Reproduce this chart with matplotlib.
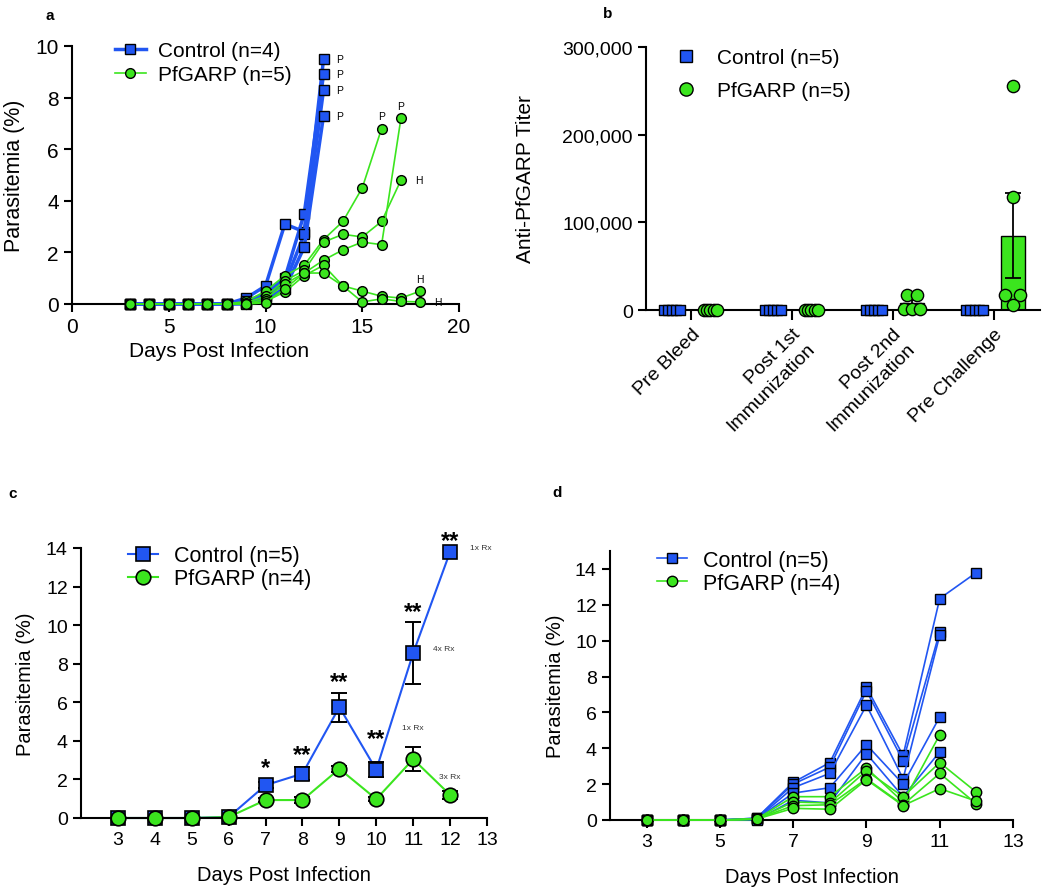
import numpy as np
import matplotlib
matplotlib.use('Agg')
import matplotlib.pyplot as plt
from matplotlib.ticker import FuncFormatter
from matplotlib.lines import Line2D

plt.rcParams['font.family'] = ['Liberation Sans', 'DejaVu Sans']

BLUE = '#2156F2'
GREEN = '#3BE51E'

# ---------------- Panel a data ----------------
a_days = list(range(3, 19))
a_control = [
    [0, 0, 0, 0, 0, 0, 0.23, 0.7, 3.1, 2.8, 9.5],
    [0, 0, 0, 0, 0, 0, 0.1, 0.4, 1.0, 3.5, 8.9],
    [0, 0, 0, 0, 0, 0, 0.05, 0.3, 0.8, 2.7, 8.3],
    [0, 0, 0, 0, 0, 0, 0.0, 0.2, 0.6, 2.2, 7.3],
]
a_control_end = ['P', 'P', 'P', 'P']
a_pfgarp = [
    [0, 0, 0, 0, 0, 0, 0.1, 0.5, 1.1, 1.5, 2.5, 3.2, 4.5, 6.8],
    [0, 0, 0, 0, 0, 0, 0.05, 0.3, 0.9, 1.3, 2.4, 2.7, 2.6, 3.2, 4.8],
    [0, 0, 0, 0, 0, 0, 0, 0.2, 0.78, 1.2, 1.7, 2.1, 2.4, 2.3, 7.2],
    [0, 0, 0, 0, 0, 0, 0, 0.1, 0.47, 1.1, 1.5, 0.7, 0.5, 0.3, 0.23, 0.5],
    [0, 0, 0, 0, 0, 0, 0, 0.05, 0.6, 1.2, 1.2, 0.7, 0.08, 0.2, 0.1, 0.08],
]
a_pfgarp_end = ['P', 'H', 'P', 'H', 'H']
a_pfgarp_end_pos = ['above', 'right', 'above', 'above', 'right']

# ---------------- Panel b data ----------------
b_groups = ['Pre Bleed', 'Post 1st\nImmunization', 'Post 2nd\nImmunization', 'Pre Challenge']
b_control = [[0, 0, 0, 0, 0], [0, 0, 0, 0, 0], [0, 0, 0, 0, 0], [0, 0, 0, 0, 0]]
b_pfgarp = [[0, 0, 0, 0, 0], [0, 0, 0, 0, 0],
            [17000, 17000, 1100, 1100, 1100],
            [256000, 129000, 17000, 17000, 5700]]

# ---------------- Panel c data ----------------
c_days = [3, 4, 5, 6, 7, 8, 9, 10, 11, 12]
c_control_mean = [0, 0, 0, 0.05, 1.7, 2.3, 5.75, 2.5, 8.55, 13.8]
c_control_sem = [0, 0, 0, 0, 0.15, 0.35, 0.75, 0.38, 1.6, 0]
c_pfgarp_mean = [0, 0, 0, 0.05, 0.93, 0.93, 2.55, 0.98, 3.05, 1.2]
c_pfgarp_sem = [0, 0, 0, 0, 0.1, 0.15, 0.15, 0.1, 0.63, 0.2]
c_star_days = [7, 8, 9, 10, 11, 12]
c_star_text = ['*', '**', '**', '**', '**', '**']
c_star_y = [2.6, 3.3, 7.1, 4.1, 10.7, 14.4]
c_rx_control = {11: '4x Rx', 12: '1x Rx'}
c_rx_pfgarp = {11: '1x Rx', 12: '3x Rx'}

# ---------------- Panel d data ----------------
d_days = [3, 4, 5, 6, 7, 8, 9, 10, 11, 12]
d_control = [
    [0, 0, 0, 0.1, 2.1, 3.2, 7.4, 3.6, 12.35, 13.8],
    [0, 0, 0, 0.1, 2.0, 2.95, 7.2, 3.3, 10.5],
    [0, 0, 0, 0.05, 1.8, 2.6, 6.4, 2.3, 10.3],
    [0, 0, 0, 0.05, 1.5, 1.8, 4.2, 2.0, 5.75],
    [0, 0, 0, 0.0, 1.1, 0.95, 3.7, 1.3, 3.8],
]
d_pfgarp = [
    [0, 0, 0, 0.05, 1.3, 1.3, 2.9, 1.0, 4.75],
    [0, 0, 0, 0.05, 1.0, 0.95, 2.75, 1.3, 3.2, 1.55],
    [0, 0, 0, 0.05, 0.8, 0.85, 2.3, 0.85, 2.6, 0.9],
    [0, 0, 0, 0.05, 0.65, 0.6, 2.25, 0.8, 1.75, 1.05],
]

W, H = 1045, 895
fig = plt.figure(figsize=(W / 100, H / 100), dpi=100)


def px_axes(l, r, t, b):
    return fig.add_axes([l / W, 1 - b / H, (r - l) / W, (b - t) / H])


def style(ax, fs):
    for s in ['top', 'right']:
        ax.spines[s].set_visible(False)
    for s in ['left', 'bottom']:
        ax.spines[s].set_linewidth(1.5)
    ax.tick_params(width=1.5, length=6, labelsize=fs, color='black')


# ======== Panel a ========
axa = px_axes(72, 459, 47, 305)
style(axa, 15)
for vals in a_control:
    axa.plot(a_days[:len(vals)], vals, color=BLUE, lw=2.5, marker='s', ms=7,
             mfc=BLUE, mec='black', mew=1, clip_on=False, zorder=3)
for vals, lab in zip(a_control, a_control_end):
    axa.annotate(lab, (a_days[len(vals) - 1], vals[-1]), xytext=(9, 0),
                 textcoords='offset points', fontsize=7.5, va='center', ha='left')
for vals in a_pfgarp:
    axa.plot(a_days[:len(vals)], vals, color=GREEN, lw=1.2, marker='o', ms=7,
             mfc=GREEN, mec='black', mew=1, clip_on=False, zorder=4)
for vals, lab, pos in zip(a_pfgarp, a_pfgarp_end, a_pfgarp_end_pos):
    xy = (a_days[len(vals) - 1], vals[-1])
    if pos == 'above':
        axa.annotate(lab, xy, xytext=(0, 9), textcoords='offset points',
                     fontsize=7.5, ha='center', va='center')
    else:
        axa.annotate(lab, xy, xytext=(10, 0), textcoords='offset points',
                     fontsize=7.5, ha='left', va='center')
axa.set_xlim(0, 20)
axa.set_ylim(0, 10)
axa.set_xticks([0, 5, 10, 15, 20])
axa.set_yticks([0, 2, 4, 6, 8, 10])
axa.set_xlabel('Days Post Infection', fontsize=15)
axa.set_ylabel('Parasitemia (%)', fontsize=15.5)
axa.yaxis.set_label_coords(-0.121, 0.5)
axa.xaxis.set_label_coords(0.38, -0.145)
h1 = Line2D([], [], color=BLUE, lw=2.5, marker='s', ms=7, mfc=BLUE, mec='black', mew=1)
h2 = Line2D([], [], color=GREEN, lw=1.2, marker='o', ms=7, mfc=GREEN, mec='black', mew=1)
axa.legend([h1, h2], ['Control (n=4)', 'PfGARP (n=5)'], loc='upper left',
           bbox_to_anchor=(0.11, 1.02), frameon=False, fontsize=15, borderpad=0,
           borderaxespad=0, handlelength=1.5, handletextpad=0.6, labelspacing=0.25)

# ======== Panel b ========
axb = px_axes(646, 1040, 48, 311)
style(axb, 14)
off = 0.19
bw = 0.24
ctrl_jit = np.linspace(-0.08, 0.08, 5)
zero_jit = np.linspace(-0.065, 0.065, 5)
pf_jit = [zero_jit, zero_jit,
          np.array([-0.045, 0.045, -0.08, 0.0, 0.08]),
          np.array([0.0, 0.0, -0.075, 0.075, 0.0])]
for i, (cv, pv) in enumerate(zip(b_control, b_pfgarp)):
    cv = np.array(cv, float)
    pv = np.array(pv, float)
    cm, pm = cv.mean(), pv.mean()
    ps = pv.std(ddof=1) / np.sqrt(len(pv))
    axb.bar(i - off, cm, width=bw, color=BLUE, edgecolor='black', lw=1, zorder=2)
    axb.bar(i + off, pm, width=bw, color=GREEN, edgecolor='black', lw=1, zorder=2)
    if ps > 0:
        axb.errorbar(i + off, pm, yerr=ps, fmt='none', ecolor='black', elinewidth=1.3,
                     capsize=6, capthick=1.3, zorder=3)
    axb.scatter(i - off + ctrl_jit, cv, marker='s', s=55, color=BLUE,
                edgecolor='black', lw=1, zorder=4, clip_on=False)
    axb.scatter(i + off + pf_jit[i], pv, marker='o', s=78, color=GREEN,
                edgecolor='black', lw=1, zorder=4, clip_on=False)
axb.set_xlim(-0.45, 3.46)
axb.set_ylim(0, 300000)
axb.set_yticks([0, 100000, 200000, 300000])
axb.yaxis.set_major_formatter(FuncFormatter(lambda v, p: f'{int(v):,}'))
axb.set_xticks(range(len(b_groups)))
axb.set_xticklabels(b_groups, rotation=45, ha='right', va='top',
                    rotation_mode='anchor', multialignment='right', fontsize=14)
axb.tick_params(axis='x', length=7, pad=4)
axb.set_ylabel('Anti-PfGARP Titer', fontsize=15)
axb.yaxis.set_label_coords(-0.282, 0.5)
hb1 = Line2D([], [], ls='none', marker='s', ms=8, mfc=BLUE, mec='black', mew=1)
hb2 = Line2D([], [], ls='none', marker='o', ms=9.5, mfc=GREEN, mec='black', mew=1)
axb.legend([hb1, hb2], ['Control (n=5)', 'PfGARP (n=5)'], loc='upper left',
           bbox_to_anchor=(0.07, 0.995), frameon=False, fontsize=15, borderpad=0,
           borderaxespad=0, handlelength=1.2, handletextpad=0.9, labelspacing=0.65)

# ======== Panel c ========
axc = px_axes(81, 487, 549, 819)
style(axc, 14)
cm = np.array(c_control_mean)
cs = np.array(c_control_sem)
gm = np.array(c_pfgarp_mean)
gs = np.array(c_pfgarp_sem)
cd = np.array(c_days)
axc.plot(cd, cm, color=BLUE, lw=1.5, zorder=2, clip_on=False)
axc.plot(cd, gm, color=GREEN, lw=1.5, zorder=2, clip_on=False)
mk = cs > 0
axc.errorbar(cd[mk], cm[mk], yerr=cs[mk], fmt='none', ecolor='black', elinewidth=1.4,
             capsize=6, capthick=1.4, zorder=3)
mk = gs > 0
axc.errorbar(cd[mk], gm[mk], yerr=gs[mk], fmt='none', ecolor='black', elinewidth=1.4,
             capsize=6, capthick=1.4, zorder=3)
axc.plot(cd, cm, ls='none', marker='s', ms=10, mfc=BLUE, mec='black', mew=1.2,
         zorder=4, clip_on=False)
axc.plot(cd, gm, ls='none', marker='o', ms=10.5, mfc=GREEN, mec='black', mew=1.2,
         zorder=5, clip_on=False)
for d, t, y in zip(c_star_days, c_star_text, c_star_y):
    axc.text(d, y, t, ha='center', va='center', fontsize=17, fontweight='bold')
for d, t in c_rx_control.items():
    i = c_days.index(d)
    axc.annotate(t, (d, cm[i]), xytext=(14, 3), textcoords='offset points',
                 fontsize=6, ha='left', va='center', color='#333333')
axc.annotate(c_rx_pfgarp[11], (11, gm[c_days.index(11)] + gs[c_days.index(11)]),
             xytext=(0, 14), textcoords='offset points', fontsize=6, ha='center',
             va='center', color='#333333')
axc.annotate(c_rx_pfgarp[12], (12, gm[c_days.index(12)]), xytext=(0, 13),
             textcoords='offset points', fontsize=6, ha='center', va='center',
             color='#333333')
axc.set_xlim(2, 13)
axc.set_ylim(0, 14)
axc.set_xticks(range(3, 14))
axc.set_yticks(range(0, 15, 2))
axc.set_xlabel('Days Post Infection', fontsize=14.5)
axc.set_ylabel('Parasitemia (%)', fontsize=14.5)
axc.yaxis.set_label_coords(-0.113, 0.5)
axc.xaxis.set_label_coords(0.5, -0.175)
hc1 = Line2D([], [], color=BLUE, lw=1.5, marker='s', ms=10, mfc=BLUE, mec='black', mew=1.2)
hc2 = Line2D([], [], color=GREEN, lw=1.5, marker='o', ms=10.5, mfc=GREEN, mec='black', mew=1.2)
axc.legend([hc1, hc2], ['Control (n=5)', 'PfGARP (n=4)'], loc='upper left',
           bbox_to_anchor=(0.116, 1.01), frameon=False, fontsize=15.5, borderpad=0,
           borderaxespad=0, handlelength=1.4, handletextpad=0.75, labelspacing=0.1)

# ======== Panel d ========
axd = px_axes(610, 1013, 552, 821)
style(axd, 14)
for vals in d_control:
    axd.plot(d_days[:len(vals)], vals, color=BLUE, lw=1.2, marker='s', ms=7,
             mfc=BLUE, mec='black', mew=1, clip_on=False, zorder=3)
for vals in d_pfgarp:
    axd.plot(d_days[:len(vals)], vals, color=GREEN, lw=1.2, marker='o', ms=7.5,
             mfc=GREEN, mec='black', mew=1, clip_on=False, zorder=4)
axd.set_xlim(2, 13)
axd.set_ylim(0, 15)
axd.set_xticks([3, 5, 7, 9, 11, 13])
axd.set_yticks(range(0, 15, 2))
axd.set_xlabel('Days Post Infection', fontsize=14.5)
axd.set_ylabel('Parasitemia (%)', fontsize=14.5)
axd.yaxis.set_label_coords(-0.112, 0.5)
axd.xaxis.set_label_coords(0.5, -0.175)
hd1 = Line2D([], [], color=BLUE, lw=1.2, marker='s', ms=7, mfc=BLUE, mec='black', mew=1)
hd2 = Line2D([], [], color=GREEN, lw=1.2, marker='o', ms=7.5, mfc=GREEN, mec='black', mew=1)
axd.legend([hd1, hd2], ['Control (n=5)', 'PfGARP (n=4)'], loc='upper left',
           bbox_to_anchor=(0.117, 1.005), frameon=False, fontsize=15.5, borderpad=0,
           borderaxespad=0, handlelength=1.4, handletextpad=0.75, labelspacing=0.1)

# panel letters
for lab, (x, y) in zip('abcd', [(50, 16), (608, 14), (13, 494), (557, 493)]):
    fig.text(x / W, 1 - y / H, lab, fontsize=11, fontweight='bold', ha='center', va='center')

fig.savefig('out.png', dpi=100)
